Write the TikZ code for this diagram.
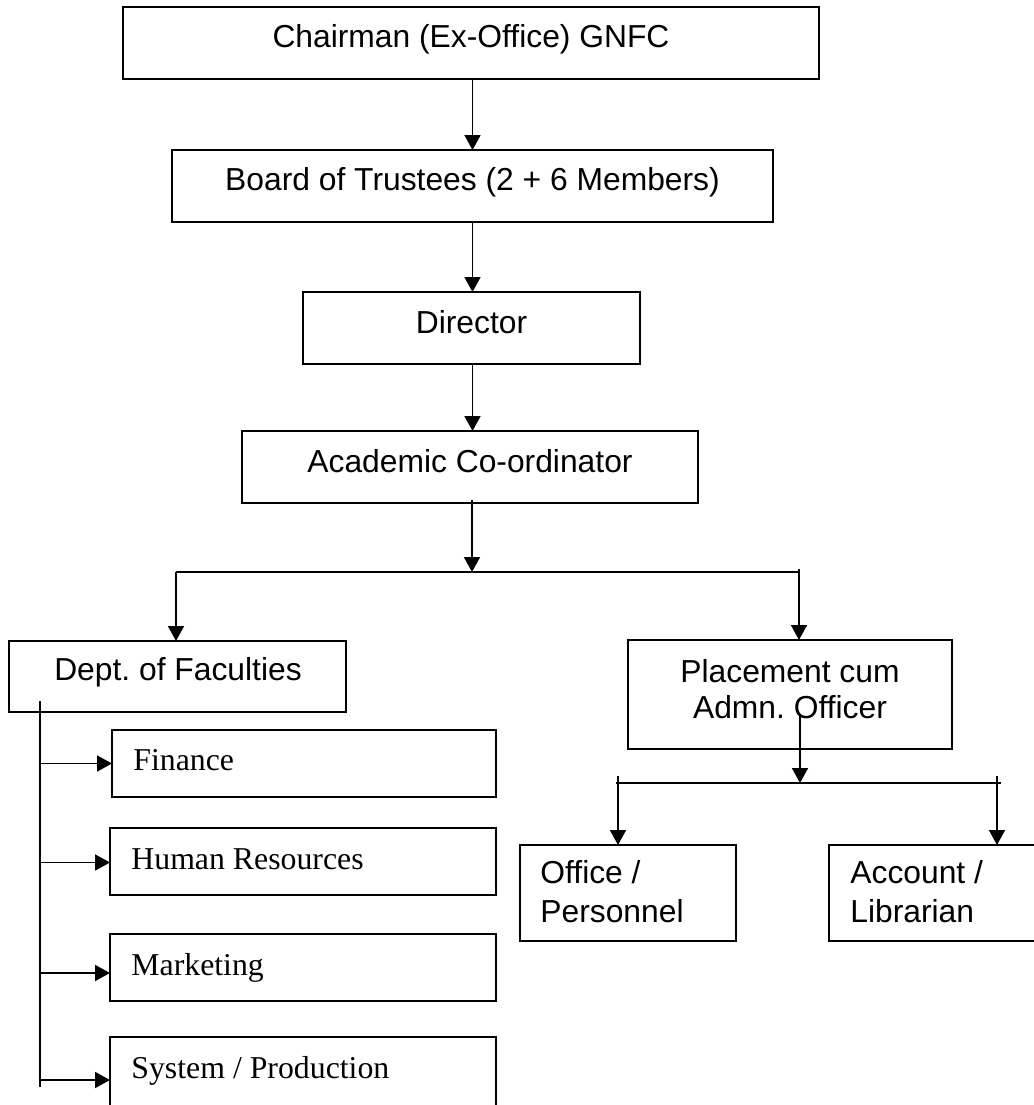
\documentclass[tikz,border=0pt]{standalone}
\usepackage{fontspec}
\setmainfont{Liberation Sans}
\newfontfamily\serifont{Liberation Serif}
\usetikzlibrary{arrows.meta,calc}
\frenchspacing
\begin{document}
\begin{tikzpicture}[x=0.5pt,y=-0.5pt,
  box/.style={draw,line width=1pt,rectangle,anchor=north west,inner sep=0pt,outer sep=0pt},
  lbl/.style={inner sep=0pt,anchor=base,font=\fontsize{15.9}{18.3}\selectfont},
  lbll/.style={inner sep=0pt,anchor=base west,font=\fontsize{15.9}{18.3}\selectfont},
  slbl/.style={inner sep=0pt,anchor=base west,font=\fontsize{15.9}{18.3}\selectfont\serifont},
  conn/.style={line width=0.9pt},
  arr/.style={line width=0.9pt,-{Triangle[width=8pt,length=7.5pt]}}]
\useasboundingbox (0,0) rectangle (1034,1105);
\clip (0,0) rectangle (1034,1105);
% boxes
\node[box,minimum width=348pt,minimum height=36pt] (chair) at (123,7) {};
\node[box,minimum width=300.5pt,minimum height=36pt] (board) at (172,150) {};
\node[box,minimum width=168.5pt,minimum height=36pt] (dir) at (303,292) {};
\node[box,minimum width=228pt,minimum height=36pt] (acad) at (242,431) {};
\node[box,minimum width=168.5pt,minimum height=35.5pt] (dept) at (9,641) {};
\node[box,minimum width=162pt,minimum height=54.5pt] (place) at (628,640) {};
\node[box,minimum width=108pt,minimum height=48pt] (office) at (520,845) {};
\node[box,minimum width=110.5pt,minimum height=48pt] (account) at (829,845) {};
\node[box,minimum width=192pt,minimum height=33.5pt] (fin) at (112,730) {};
\node[box,minimum width=193pt,minimum height=33.5pt] (hr) at (110,828) {};
\node[box,minimum width=193pt,minimum height=33.5pt] (mkt) at (110,934) {};
\node[box,minimum width=193pt,minimum height=46.5pt] (sys) at (110,1037) {};
% texts
\node[lbl] (tchair) at (471,47) {Chairman (Ex-Office) GNFC};
\node[lbl] (tboard) at (472.5,190) {Board of Trustees (2 + 6 Members)};
\node[lbl] (tdir) at (471.5,333) {Director};
\node[lbl] (tacad) at (470,472) {Academic Co-ordinator};
\node[lbl] (tdept) at (178,680) {Dept. of Faculties};
\node[lbl] (tplace1) at (790,682) {Placement cum};
\node[lbl] (tplace2) at (790,718) {Admn. Officer};
\node[lbll] (toffice1) at (540,883) {Office /};
\node[lbll] (toffice2) at (540,922) {Personnel};
\node[lbll] (tacc1) at (850,883) {Account /};
\node[lbll] (tacc2) at (850,922) {Librarian};
\node[slbl] (tfin) at (133,770) {Finance};
\node[slbl] (thr) at (131,869) {Human Resources};
\node[slbl] (tmkt) at (131,975) {Marketing};
\node[slbl] (tsys) at (131,1078) {System / Production};
% connectors top chain
\draw[arr] (board.north |- chair.south) -- (board.north);
\draw[arr] (board.south) -- (board.south |- dir.north);
\draw[arr] (board.south |- dir.south) -- (board.south |- acad.north);
\coordinate (j1) at (472,572);
\draw[arr] (j1 |- acad.south) ++(0,-3) -- (j1);
\coordinate (j1l) at (176,572);
\coordinate (j1r) at (799,572);
\draw[conn] (j1l) -- (j1r);
\draw[arr] (j1l) -- (j1l |- dept.north);
\draw[arr] ($(j1r)+(0,-3)$) -- (j1r |- place.north);
% departments
\coordinate (dtop) at (40,701);
\coordinate (dbot) at (40,1087);
\draw[conn] (dtop) -- (dbot);
\draw[arr] (dtop |- fin.west) -- (fin.west);
\draw[arr] (dtop |- hr.west) ++(0,1) -- ($(hr.west)+(0,1)$);
\draw[arr] (40,973) -- (mkt.west |- 0,973);
\draw[arr] (40,1080) -- (sys.west |- 0,1080);
% placement branch
\coordinate (pin) at (800,716);
\coordinate (j2) at (800,783);
\draw[arr] (pin) -- (j2);
\coordinate (j2l) at (616,783);
\coordinate (j2r) at (1001,783);
\draw[conn] (j2l) -- (j2r);
\coordinate (j2lt) at (618,776);
\coordinate (j2rt) at (997,776);
\draw[arr] (j2lt) -- (j2lt |- office.north);
\draw[arr] (j2rt) -- (j2rt |- account.north);
\end{tikzpicture}
\end{document}
